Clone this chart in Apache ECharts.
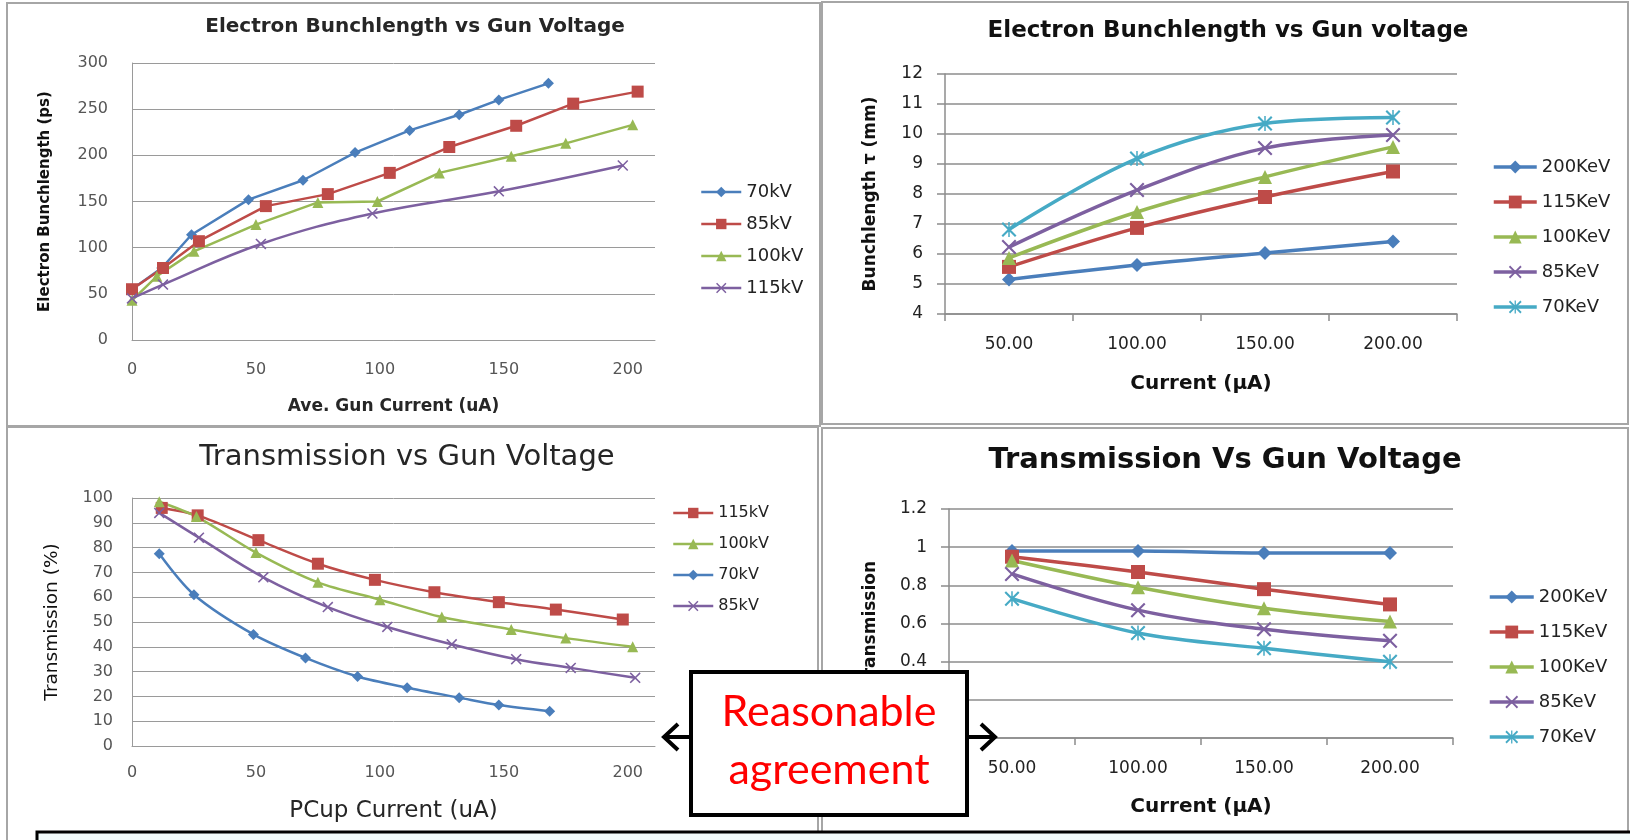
<!DOCTYPE html>
<html>
<head>
<meta charset="utf-8">
<title>Bunchlength and Transmission vs Gun Voltage</title>
<script src="https://cdn.jsdelivr.net/npm/echarts@6/dist/echarts.min.js"></script>
<style>
  html, body { margin: 0; padding: 0; background: #ffffff; }
  #chart { width: 1630px; height: 840px; }
</style>
</head>
<body>
<div id="chart"></div>
<script>
// ---- Electron bunchlength (ps) vs average gun current (uA), measured ----
const blm70X  = [0, 12, 24, 47, 69, 90, 112, 132, 148, 168];
const blm70Y  = [55, 78, 114, 152, 173, 203, 227, 244, 260, 278];
const blm85X  = [0, 12.5, 27, 54, 79, 104, 128, 155, 178, 204];
const blm85Y  = [55, 78, 107, 145, 158, 181, 209, 232, 256, 269];
const blm100X = [0, 10, 25, 50, 75, 99, 124, 153, 175, 202];
const blm100Y = [43, 69, 96, 125, 149, 150, 181, 199, 213, 233];
const blm115X = [0, 12.5, 52, 97, 148, 198];
const blm115Y = [45, 60, 104, 137, 161, 189];

// ---- Transmission (%) vs PCup current (uA), measured ----
const trm115X = [12, 26.5, 51, 75, 98, 122, 148, 171, 198];
const trm115Y = [96, 93, 83, 73.5, 67, 62, 58, 55, 51];
const trm100X = [11, 26, 50, 75, 100, 125, 153, 175, 202];
const trm100Y = [98.5, 92.5, 78, 66, 59, 52, 47, 43.5, 40];
const trm70X  = [11, 25, 49, 70, 91, 111, 132, 148, 168.5];
const trm70Y  = [77.5, 61, 45, 35.5, 28, 23.5, 19.5, 16.5, 14];
const trm85X  = [11, 27, 53, 79, 103, 129, 155, 177, 203];
const trm85Y  = [94, 84, 68, 56, 48, 41, 35, 31.5, 27.5];

// ---- Simulation: current categories (uA) ----
const simCurrents = ['50.00', '100.00', '150.00', '200.00'];

// Bunchlength tau (mm)
const simBl200 = [5.15, 5.63, 6.03, 6.42];
const simBl115 = [5.57, 6.87, 7.9, 8.75];
const simBl100 = [5.87, 7.4, 8.57, 9.57];
const simBl85  = [6.23, 8.13, 9.53, 9.97];
const simBl70  = [6.82, 9.18, 10.35, 10.55];

// Transmission (fraction)
const simTr200 = [0.98, 0.98, 0.97, 0.97];
const simTr115 = [0.95, 0.87, 0.78, 0.70];
const simTr100 = [0.93, 0.79, 0.68, 0.61];
const simTr85  = [0.86, 0.67, 0.57, 0.51];
const simTr70  = [0.73, 0.55, 0.47, 0.40];

// Axis tick settings
const blmTicks = { min: 0, max: 300, interval: 50 };
const trmTicks = { min: 0, max: 100, interval: 10 };
const simBlTicks = { min: 4, max: 12, interval: 1 };
const simTrTicks = { min: 0, max: 1.2, interval: 0.2 };
const currentTicks = { min: 0, max: 211, interval: 50 };

// ---- styling ----
const FONT = 'DejaVu Sans';
const C = {
  blue: '#4a7ebb', red: '#be4b48', green: '#98b954', purple: '#7d60a0', cyan: '#46aac5'
};
const SYM_X = 'path://M2,0 L10,8 L18,0 L20,2 L12,10 L20,18 L18,20 L10,12 L2,20 L0,18 L8,10 L0,2 Z';
const SYM_STAR = 'path://M2,0 L10,8 L18,0 L20,2 L12,10 L20,18 L18,20 L10,12 L2,20 L0,18 L8,10 L0,2 Z M9,0 L11,0 L11,20 L9,20 Z';

const zip = (xs, ys) => xs.map((x, i) => [x, ys[i]]);

// Series names carry a panel prefix ("panel|label") so each legend picks its own series;
// the legend shows only the label part.
const key = (panel, label) => panel + '|' + label;
const labelOf = (name) => name.split('|')[1];

function lineSeries(name, data, idx, color, symbol, size, width, smooth) {
  return {
    name, type: 'line', data,
    xAxisIndex: idx, yAxisIndex: idx,
    color,
    symbol, symbolSize: size,
    smooth: smooth || false,
    lineStyle: { color, width },
    itemStyle: { color },
    emphasis: { disabled: true },
    z: 3
  };
}

const gridLine = { show: true, lineStyle: { color: '#9a9a9a', width: 1 } };
const axisLineGray = { show: true, onZero: false, lineStyle: { color: '#9a9a9a', width: 1 } };

function valueX(idx, labelColor, size, margin, name, nameFont, nameBold, nameGap) {
  return {
    gridIndex: idx, type: 'value',
    min: currentTicks.min, max: currentTicks.max, interval: currentTicks.interval,
    axisLine: axisLineGray, axisTick: { show: false }, splitLine: { show: false },
    axisLabel: { color: labelColor, fontSize: size, fontFamily: FONT, margin, showMaxLabel: false },
    name, nameLocation: 'middle', nameGap,
    nameTextStyle: { color: '#262626', fontSize: nameFont, fontWeight: nameBold ? 'bold' : 'normal', fontFamily: FONT }
  };
}

function catX(idx, size, margin, name, nameGap) {
  return {
    gridIndex: idx, type: 'category', data: simCurrents, boundaryGap: true,
    axisLine: { show: true, lineStyle: { color: '#8c8c8c', width: 1.5 } },
    axisTick: { show: true, length: 7, alignWithLabel: false, lineStyle: { color: '#8c8c8c', width: 1.5 } },
    splitLine: { show: false },
    axisLabel: { color: '#222', fontSize: size, fontFamily: FONT, margin },
    name, nameLocation: 'middle', nameGap,
    nameTextStyle: { color: '#111', fontSize: 20, fontWeight: 'bold', fontFamily: FONT }
  };
}

function valueY(idx, ticks, labelColor, size, margin, name, nameFont, nameBold, nameGap, ticked) {
  return {
    gridIndex: idx, type: 'value',
    min: ticks.min, max: ticks.max, interval: ticks.interval,
    axisLine: ticked ? { show: true, lineStyle: { color: '#8c8c8c', width: 1.5 } } : axisLineGray,
    axisTick: ticked ? { show: true, length: 8, lineStyle: { color: '#8c8c8c', width: 1.5 } } : { show: false },
    splitLine: ticked ? { show: true, lineStyle: { color: '#8c8c8c', width: 1.5 } } : gridLine,
    axisLabel: { color: labelColor, fontSize: size, fontFamily: FONT, margin },
    name, nameLocation: 'middle', nameGap, nameRotate: 90,
    nameTextStyle: { color: '#111', fontSize: nameFont, fontWeight: nameBold ? 'bold' : 'normal', fontFamily: FONT }
  };
}

function legend(names, left, top, itemWidth, itemHeight, fontSize, lineHeight, gap, lineWidth) {
  return {
    data: names, orient: 'vertical', left, top, padding: 0,
    itemWidth, itemHeight, itemGap: gap, selectedMode: false,
    formatter: labelOf,
    lineStyle: { width: lineWidth },
    textStyle: { color: '#222', fontSize, fontFamily: FONT, lineHeight }
  };
}

const TL = 'blm', TR = 'simbl', BL = 'trm', BR = 'simtr';

const option = {
  animation: false,
  backgroundColor: '#ffffff',
  textStyle: { fontFamily: FONT },
  title: [
    { text: 'Electron Bunchlength vs Gun Voltage', left: 415, top: 17, textAlign: 'center', padding: 0,
      textStyle: { fontSize: 20, fontWeight: 'bold', color: '#262626', fontFamily: FONT } },
    { text: 'Electron Bunchlength vs Gun voltage', left: 1228, top: 20, textAlign: 'center', padding: 0,
      textStyle: { fontSize: 23, fontWeight: 'bold', color: '#111', fontFamily: FONT } },
    { text: 'Transmission vs Gun Voltage', left: 407, top: 443, textAlign: 'center', padding: 0,
      textStyle: { fontSize: 29, fontWeight: 'normal', color: '#262626', fontFamily: FONT } },
    { text: 'Transmission Vs Gun Voltage', left: 1225, top: 446, textAlign: 'center', padding: 0,
      textStyle: { fontSize: 29, fontWeight: 'bold', color: '#111', fontFamily: FONT } }
  ],
  legend: [
    legend([key(TL, '70kV'), key(TL, '85kV'), key(TL, '100kV'), key(TL, '115kV')], 700, 183, 40, 13, 18, 18, 14, 2.5),
    legend([key(TR, '200KeV'), key(TR, '115KeV'), key(TR, '100KeV'), key(TR, '85KeV'), key(TR, '70KeV')], 1492, 158, 43, 16, 18, 18, 17, 3.5),
    legend([key(BL, '115kV'), key(BL, '100kV'), key(BL, '70kV'), key(BL, '85kV')], 672, 505, 40, 13, 16, 16, 15, 2.5),
    legend([key(BR, '200KeV'), key(BR, '115KeV'), key(BR, '100KeV'), key(BR, '85KeV'), key(BR, '70KeV')], 1488, 588, 44, 16, 18, 18, 17, 3.5)
  ],
  grid: [
    { left: 132, top: 63, width: 523, height: 277, outerBoundsMode: 'none' },
    { left: 945, top: 74, width: 512, height: 240, outerBoundsMode: 'none' },
    { left: 132, top: 498, width: 523, height: 248, outerBoundsMode: 'none' },
    { left: 949, top: 509, width: 504, height: 229, outerBoundsMode: 'none' }
  ],
  xAxis: [
    valueX(0, '#555', 16, 22, 'Ave. Gun Current (uA)', 17, true, 58),
    catX(1, 17, 22, 'Current (\u00b5A)', 60),
    valueX(2, '#555', 16, 19, 'PCup Current (uA)', 23, false, 54),
    catX(3, 17, 22, 'Current (\u00b5A)', 59)
  ],
  yAxis: [
    valueY(0, blmTicks, '#555', 16, 24, 'Electron Bunchlength (ps)', 15, true, 79, false),
    valueY(1, simBlTicks, '#222', 17, 22, 'Bunchlength \u03c4 (mm)', 17, true, 66, true),
    valueY(2, trmTicks, '#555', 16, 19, 'Transmission (%)', 18.5, false, 70, false),
    valueY(3, simTrTicks, '#222', 17, 22, 'Transmission', 17, true, 70, true)
  ],
  series: [
    // measured bunchlength
    lineSeries(key(TL, '70kV'), zip(blm70X, blm70Y), 0, C.blue, 'diamond', 11, 2.5),
    lineSeries(key(TL, '85kV'), zip(blm85X, blm85Y), 0, C.red, 'rect', 12, 2.5),
    lineSeries(key(TL, '100kV'), zip(blm100X, blm100Y), 0, C.green, 'triangle', 11, 2.5),
    lineSeries(key(TL, '115kV'), zip(blm115X, blm115Y), 0, C.purple, SYM_X, 11, 2.5, 0.4),
    // simulated bunchlength
    lineSeries(key(TR, '200KeV'), simBl200, 1, C.blue, 'diamond', 14, 3.5, 0.35),
    lineSeries(key(TR, '115KeV'), simBl115, 1, C.red, 'rect', 14, 3.5, 0.35),
    lineSeries(key(TR, '100KeV'), simBl100, 1, C.green, 'triangle', 14, 3.5, 0.35),
    lineSeries(key(TR, '85KeV'), simBl85, 1, C.purple, SYM_X, 15, 3.5, 0.35),
    lineSeries(key(TR, '70KeV'), simBl70, 1, C.cyan, SYM_STAR, 15, 3.5, 0.35),
    // measured transmission
    lineSeries(key(BL, '115kV'), zip(trm115X, trm115Y), 2, C.red, 'rect', 12, 2.5, 0.3),
    lineSeries(key(BL, '100kV'), zip(trm100X, trm100Y), 2, C.green, 'triangle', 11, 2.5, 0.3),
    lineSeries(key(BL, '70kV'), zip(trm70X, trm70Y), 2, C.blue, 'diamond', 11, 2.5, 0.3),
    lineSeries(key(BL, '85kV'), zip(trm85X, trm85Y), 2, C.purple, SYM_X, 11, 2.5, 0.4),
    // simulated transmission
    lineSeries(key(BR, '200KeV'), simTr200, 3, C.blue, 'diamond', 14, 3.5, 0.35),
    lineSeries(key(BR, '115KeV'), simTr115, 3, C.red, 'rect', 14, 3.5, 0.35),
    lineSeries(key(BR, '100KeV'), simTr100, 3, C.green, 'triangle', 14, 3.5, 0.35),
    lineSeries(key(BR, '85KeV'), simTr85, 3, C.purple, SYM_X, 15, 3.5, 0.35),
    lineSeries(key(BR, '70KeV'), simTr70, 3, C.cyan, SYM_STAR, 15, 3.5, 0.35)
  ],
  graphic: [
    // panel frames
    { type: 'rect', shape: { x: 7, y: 3, width: 813, height: 423 }, style: { fill: null, stroke: '#a6a6a6', lineWidth: 2 }, z: 0, silent: true },
    { type: 'rect', shape: { x: 822, y: 2, width: 806, height: 422 }, style: { fill: null, stroke: '#a6a6a6', lineWidth: 2 }, z: 0, silent: true },
    { type: 'rect', shape: { x: 7, y: 427, width: 811, height: 420 }, style: { fill: null, stroke: '#a6a6a6', lineWidth: 2 }, z: 0, silent: true },
    { type: 'rect', shape: { x: 822, y: 428, width: 806, height: 420 }, style: { fill: null, stroke: '#a6a6a6', lineWidth: 2 }, z: 0, silent: true },
    // caption box along the bottom edge
    { type: 'rect', shape: { x: 37, y: 832, width: 1620, height: 40 }, style: { fill: '#f1fafa', stroke: '#000', lineWidth: 3 }, z: 50, silent: true },
    // "Reasonable agreement" call-out with arrows
    { type: 'polyline', shape: { points: [[708, 737], [664, 737]] }, style: { stroke: '#000', lineWidth: 4 }, z: 60, silent: true },
    { type: 'polyline', shape: { points: [[678, 724], [664, 737], [678, 750]] }, style: { stroke: '#000', lineWidth: 4, fill: null }, z: 60, silent: true },
    { type: 'polyline', shape: { points: [[949, 737], [995, 737]] }, style: { stroke: '#000', lineWidth: 4 }, z: 60, silent: true },
    { type: 'polyline', shape: { points: [[981, 724], [995, 737], [981, 750]] }, style: { stroke: '#000', lineWidth: 4, fill: null }, z: 60, silent: true },
    { type: 'rect', shape: { x: 691, y: 672, width: 276, height: 143 }, style: { fill: '#ffffff', stroke: '#000', lineWidth: 4 }, z: 61, silent: true },
    { type: 'text', x: 829, y: 712, style: { text: 'Reasonable', fill: '#ff0000', font: '43px Lato', textAlign: 'center', textVerticalAlign: 'middle' }, z: 62, silent: true },
    { type: 'text', x: 829, y: 770, style: { text: 'agreement', fill: '#ff0000', font: '43px Lato', textAlign: 'center', textVerticalAlign: 'middle' }, z: 62, silent: true }
  ]
};

const chart = echarts.init(document.getElementById('chart'), null, { renderer: 'canvas' });
chart.setOption(option);
</script>
</body>
</html>
